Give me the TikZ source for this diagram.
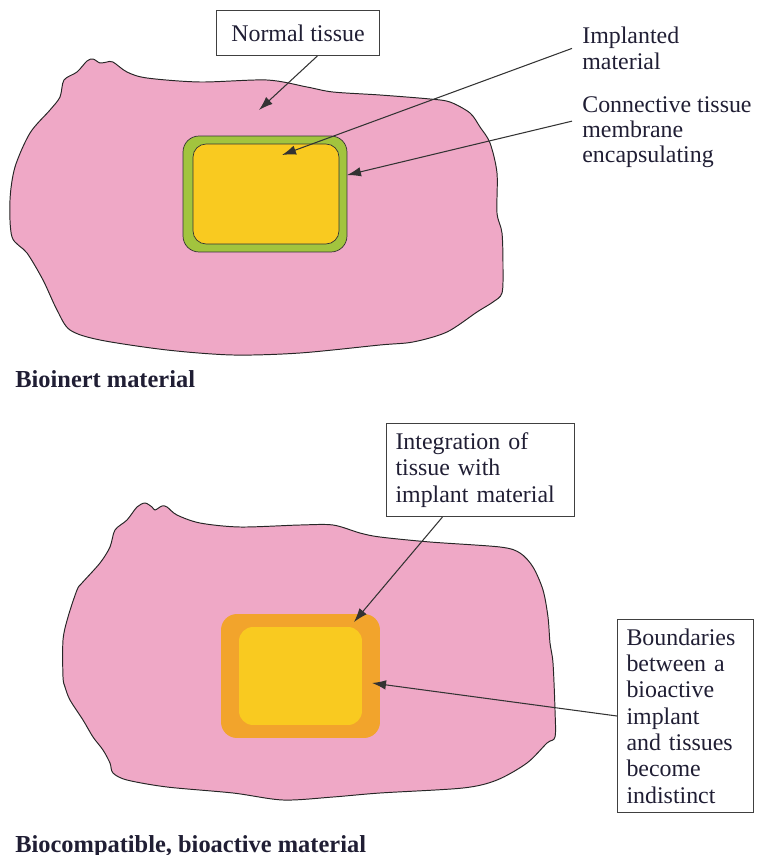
\documentclass[tikz,border=0pt]{standalone}
\usepackage{fontspec}
\setmainfont{Liberation Serif}
\usetikzlibrary{arrows.meta}
\definecolor{tissuepink}{RGB}{239,168,198}
\definecolor{capsulegreen}{RGB}{162,196,62}
\definecolor{implantyellow}{RGB}{249,202,32}
\definecolor{bondorange}{RGB}{242,164,44}
\definecolor{inkblue}{RGB}{32,30,52}
\tikzset{
  tissue/.style={
    draw=black!85,
    fill=tissuepink,
    line width=0.55pt
  },
  implant/.style={
    shape=rectangle,
    inner sep=0pt,
    outer sep=0pt,
    fill=implantyellow
  },
  callout/.style={
    draw=black!75,
    line width=0.6pt,
    inner xsep=0.18cm,
    align=left,
    text=inkblue,
    font=\fontsize{13.6}{15}\selectfont
  },
  label/.style={
    inner xsep=0.2cm,
    inner ysep=0pt,
    align=left,
    anchor=north west,
    text=inkblue,
    font=\fontsize{13.6}{14.4}\selectfont
  },
  caption/.style={
    anchor=base west,
    inner sep=0pt,
    text=inkblue,
    font=\fontsize{13.9}{15}\selectfont\bfseries
  },
  pointer/.style={
    draw=black!80,
    line width=0.6pt,
    -{Latex[length=0.28cm,width=0.19cm]}
  },
  every picture/.style={
    %scale=1.2,
    transform shape
  }
}

\begin{document}
\begin{tikzpicture}[x=0.02cm,y=-0.02cm]
  \useasboundingbox (0,0) rectangle (758,855);
  % bioinert material
  \draw[tissue] plot[smooth cycle,tension=0.5] coordinates {
    (64,80) (77,72) (87,61) (93,59) (100,63) (107,62) (113,62) (127,72)
    (147,78) (200,82) (267,80) (307,87) (333,92) (380,95) (430,99) (450,102)
    (470,113) (480,127) (490,143) (497,173) (497,213) (502,233) (503,267)
    (502,293) (493,302) (477,312) (447,332) (413,342) (380,345) (300,353)
    (233,355) (167,350) (100,340) (70,330) (57,310) (43,280) (27,253)
    (12,237) (10,200) (15,167) (30,133) (50,110) (60,97)};
  \node[implant, fill=capsulegreen, draw=black!80, rounded corners=0.32cm,
        minimum width=3.28cm, minimum height=2.32cm] (capsule) at (265,194) {};
  \node[implant, draw=black!80, rounded corners=0.26cm,
        minimum width=2.92cm, minimum height=2.0cm] (core) at (266,194) {};
  \node[callout, minimum width=3.26cm, minimum height=0.9cm] (normal) at (298,33) {Normal tissue};
  \node[label] (implanted) at (572,27) {Implanted\\material};
  \node[label] (connective) at (572,96) {Connective tissue\\membrane\\encapsulating};
  \coordinate (tis) at (259,110);
  \coordinate (mat) at (282,155);
  \draw[pointer] (normal.-50) -- (tis);
  \draw[pointer] (implanted.west) -- (mat);
  \draw[pointer] ([yshift=0.22cm]connective.west) -- (capsule.13);
  \node[caption] (inert) at (15,387) {Bioinert material};

  % bioactive material
  \draw[tissue] plot[smooth cycle,tension=0.5] coordinates {
    (63,640) (68,617) (77,590) (82,583) (100,563) (110,547) (115,530)
    (127,520) (137,507) (145,503) (152,507) (155,510) (162,506) (167,507)
    (177,515) (200,523) (240,527) (300,525) (333,525) (360,533) (380,537)
    (430,542) (500,547) (520,553) (533,567) (543,590) (548,617) (550,643)
    (553,663) (555,710) (555,737) (547,743) (527,763) (497,780) (463,788)
    (380,793) (333,797) (283,800) (233,793) (167,787) (127,780) (113,773)
    (110,763) (103,750) (93,737) (83,720) (70,700) (65,687) (63,677)};
  \node[implant, fill=bondorange, rounded corners=0.32cm,
        minimum width=3.18cm, minimum height=2.48cm] (layer) at (300.5,676) {};
  \node[implant, rounded corners=0.28cm,
        minimum width=2.46cm, minimum height=1.96cm] (bulk) at (300.5,676) {};
  \node[callout, anchor=north west, text width=3.4cm, minimum height=1.86cm] (integ) at (386,423)
    {Integration of\\tissue with\\implant material};
  \node[callout, anchor=north west, text width=2.36cm, minimum height=3.86cm] (bound) at (617,619)
    {Boundaries\\between a\\bioactive\\implant\\and tissues\\become\\indistinct};
  \coordinate (join) at (354,622);
  \coordinate (edge) at (372,683);
  \draw[pointer] (integ.-129) -- (join);
  \draw[pointer] (bound.west) -- (edge);
  \node[caption] (active) at (15,852) {Biocompatible, bioactive material};
\end{tikzpicture}
\end{document}
